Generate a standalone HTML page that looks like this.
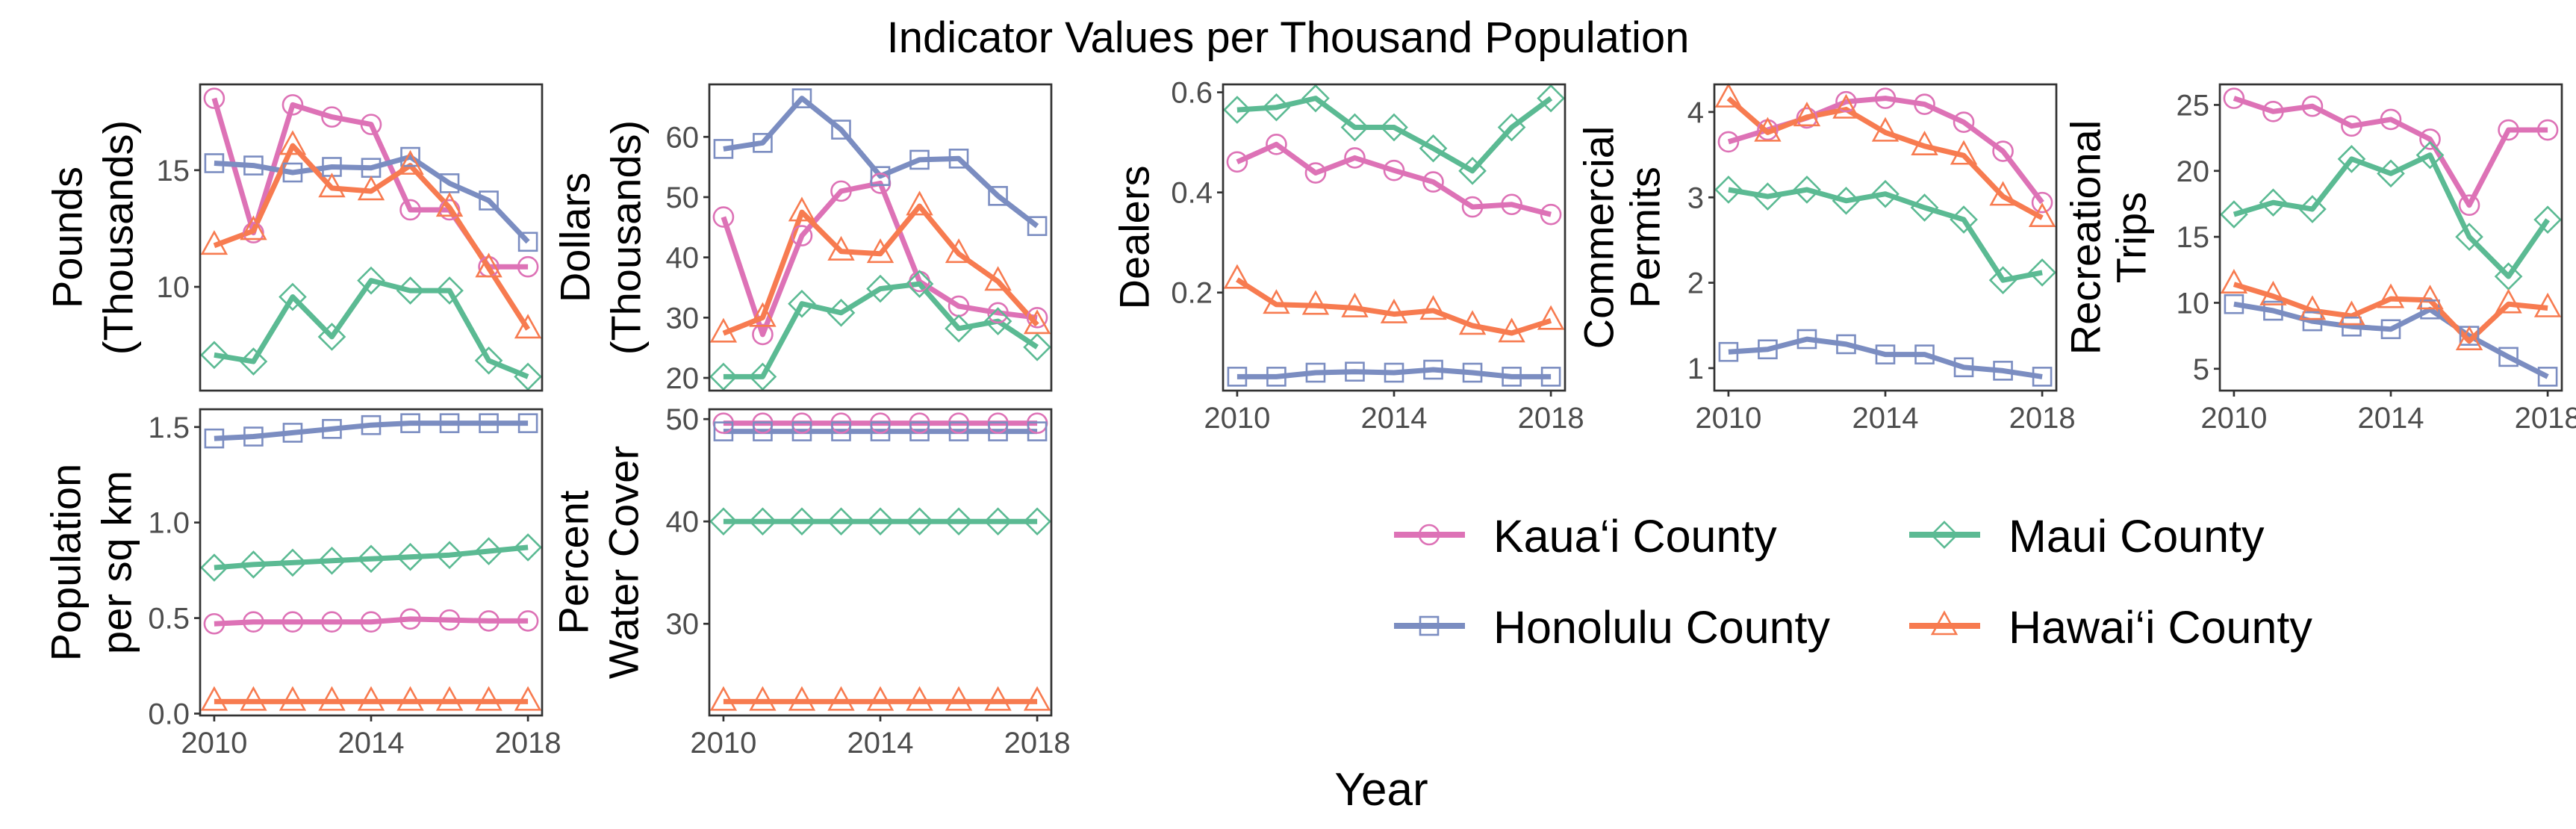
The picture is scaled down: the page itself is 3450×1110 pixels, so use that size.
<!DOCTYPE html>
<html><head><meta charset="utf-8">
<style>
html,body{margin:0;padding:0;background:#fff;}
svg{display:block;font-family:"Liberation Sans",Arial,sans-serif;}
</style></head>
<body>
<svg id="chart" width="3450" height="1110" viewBox="0 0 3450 1110" xmlns="http://www.w3.org/2000/svg">
<text x="1725" y="70" text-anchor="middle" font-size="58" fill="#000">Indicator Values per Thousand Population</text>
<text x="1850" y="1078" text-anchor="middle" font-size="62" fill="#000">Year</text>
<g id="panels"></g>
<g id="legend"></g>
</svg>
<script>
const years = [2010,2011,2012,2013,2014,2015,2016,2017,2018];
const seriesNames = ["Kaua\u2018i County","Honolulu County","Maui County","Hawai\u2018i County"];
const seriesKeys = ["kauai","honolulu","maui","hawaii"];

const poundsKauai    = [18.08,12.32,17.8,17.28,16.96,13.3,13.3,10.86,10.86];
const poundsHonolulu = [15.3,15.2,14.9,15.14,15.1,15.57,14.44,13.7,11.93];
const poundsMaui     = [7.08,6.8,9.57,7.86,10.27,9.84,9.84,6.84,6.15];
const poundsHawaii   = [11.77,12.4,16.05,14.23,14.1,15.2,13.4,10.8,8.18];

const dollarsKauai    = [46.7,27.2,43.6,51.0,52.3,36.0,31.9,30.8,30.0];
const dollarsHonolulu = [58.0,59.0,66.4,61.2,53.5,56.2,56.4,50.2,45.2];
const dollarsMaui     = [20.2,20.2,32.3,30.8,34.8,35.6,28.2,29.4,25.1];
const dollarsHawaii   = [27.4,30.0,47.5,41.0,40.6,48.5,40.6,36.0,28.8];

const dealersKauai    = [0.461,0.496,0.439,0.469,0.444,0.421,0.371,0.376,0.356];
const dealersHonolulu = [0.032,0.032,0.040,0.042,0.040,0.046,0.040,0.032,0.032];
const dealersMaui     = [0.565,0.570,0.588,0.530,0.530,0.488,0.443,0.530,0.588];
const dealersHawaii   = [0.226,0.176,0.174,0.169,0.157,0.164,0.134,0.119,0.144];

const permitsKauai    = [3.65,3.79,3.93,4.12,4.16,4.09,3.88,3.54,2.94];
const permitsHonolulu = [1.19,1.22,1.34,1.28,1.16,1.16,1.01,0.97,0.90];
const permitsMaui     = [3.09,3.01,3.09,2.96,3.04,2.88,2.74,2.03,2.12];
const permitsHawaii   = [4.16,3.76,3.94,4.03,3.76,3.60,3.49,3.01,2.76];

const tripsKauai    = [25.5,24.5,24.9,23.4,23.9,22.4,17.4,23.1,23.1];
const tripsHonolulu = [9.9,9.4,8.6,8.2,8.0,9.5,7.5,5.9,4.4];
const tripsMaui     = [16.7,17.6,17.1,20.9,19.8,21.2,15.0,12.0,16.3];
const tripsHawaii   = [11.4,10.5,9.4,9.0,10.3,10.2,7.1,9.9,9.6];

const popKauai    = [0.47,0.48,0.48,0.48,0.48,0.495,0.49,0.485,0.485];
const popHonolulu = [1.44,1.45,1.47,1.49,1.51,1.52,1.52,1.52,1.52];
const popMaui     = [0.764,0.78,0.79,0.80,0.81,0.82,0.83,0.85,0.87];
const popHawaii   = [0.063,0.063,0.063,0.063,0.063,0.063,0.063,0.063,0.063];

const waterKauai    = [49.6,49.6,49.6,49.6,49.6,49.6,49.6,49.6,49.6];
const waterHonolulu = [48.8,48.8,48.8,48.8,48.8,48.8,48.8,48.8,48.8];
const waterMaui     = [40,40,40,40,40,40,40,40,40];
const waterHawaii   = [22.4,22.4,22.4,22.4,22.4,22.4,22.4,22.4,22.4];

const poundsTicks = [10,15];
const dollarsTicks = [20,30,40,50,60];
const dealersTicks = [0.2,0.4,0.6];
const permitsTicks = [1,2,3,4];
const tripsTicks = [5,10,15,20,25];
const popTicks = [0.0,0.5,1.0,1.5];
const waterTicks = [30,40,50];
const xTicks = [2010,2014,2018];

const colors = {kauai:"#DD72B6",honolulu:"#7B8DC1",maui:"#5BBA93",hawaii:"#F77B50"};
const shapes = {kauai:"circle",honolulu:"square",maui:"diamond",hawaii:"triangle"};
const NS = "http://www.w3.org/2000/svg";

function mk(tag, attrs, parent){
  const e = document.createElementNS(NS, tag);
  for (const k in attrs) e.setAttribute(k, attrs[k]);
  if (parent) parent.appendChild(e);
  return e;
}

function marker(g, shape, cx, cy, color){
  let e;
  if (shape==="circle") e = mk("circle",{cx:cx,cy:cy,r:13,fill:"none",stroke:color,"stroke-width":2.6},g);
  else if (shape==="square") e = mk("rect",{x:cx-12,y:cy-12,width:24,height:24,fill:"none",stroke:color,"stroke-width":2.6},g);
  else if (shape==="diamond") e = mk("polygon",{points:`${cx},${cy-17} ${cx+17},${cy} ${cx},${cy+17} ${cx-17},${cy}`,fill:"none",stroke:color,"stroke-width":2.6},g);
  else e = mk("polygon",{points:`${cx},${cy-18} ${cx+16},${cy+11} ${cx-16},${cy+11}`,fill:"none",stroke:color,"stroke-width":2.6},g);
  return e;
}

const panels = [
  {key:"pounds", x:268, y:113, w:458, h:410, data:[poundsKauai,poundsHonolulu,poundsMaui,poundsHawaii], ticks:poundsTicks, fmt:v=>String(v), title:["Pounds","(Thousands)"], tx:[-178,-110], xlab:false},
  {key:"dollars", x:950, y:113, w:458, h:410, data:[dollarsKauai,dollarsHonolulu,dollarsMaui,dollarsHawaii], ticks:dollarsTicks, fmt:v=>String(v), title:["Dollars","(Thousands)"], tx:[-180,-112], xlab:false},
  {key:"dealers", x:1638, y:113, w:458, h:410, data:[dealersKauai,dealersHonolulu,dealersMaui,dealersHawaii], ticks:dealersTicks, fmt:v=>v.toFixed(1), title:["Dealers"], tx:[-119], xlab:true},
  {key:"permits", x:2296, y:113, w:458, h:410, data:[permitsKauai,permitsHonolulu,permitsMaui,permitsHawaii], ticks:permitsTicks, fmt:v=>String(v), title:["Commercial","Permits"], tx:[-155,-93], xlab:true},
  {key:"trips", x:2973, y:113, w:458, h:410, data:[tripsKauai,tripsHonolulu,tripsMaui,tripsHawaii], ticks:tripsTicks, fmt:v=>String(v), title:["Recreational","Trips"], tx:[-180,-119], xlab:true},
  {key:"population", x:268, y:548, w:458, h:410, data:[popKauai,popHonolulu,popMaui,popHawaii], ticks:popTicks, fmt:v=>v.toFixed(1), title:["Population","per sq km"], tx:[-180,-112], xlab:true},
  {key:"water", x:950, y:548, w:458, h:410, data:[waterKauai,waterHonolulu,waterMaui,waterHawaii], ticks:waterTicks, fmt:v=>String(v), title:["Percent","Water Cover"], tx:[-182,-115], xlab:true}
];

const root = document.getElementById("panels");
panels.forEach(p=>{
  const g = mk("g",{},root);
  
  
  let mn=Infinity,mx=-Infinity;
  p.data.forEach(s=>s.forEach(v=>{mn=Math.min(mn,v);mx=Math.max(mx,v);}));
  const pad=(mx-mn)*0.05; const lo=mn-pad, hi=mx+pad;
  const yS = v => p.y + p.h - (v-lo)/(hi-lo)*p.h;
  const xpad=(2018-2010)*0.045;
  const xS = v => p.x + (v-(2010-xpad))/((2018+xpad)-(2010-xpad))*p.w;

  p.data.forEach((s,i)=>{
    const key=seriesKeys[i];
    const pts = s.map((v,j)=>xS(years[j]).toFixed(1)+","+yS(v).toFixed(1)).join(" ");
    const pl = mk("polyline",{points:pts,fill:"none",stroke:colors[key],"stroke-width":7,"stroke-linejoin":"round"},g);
    
    
  });
  p.data.forEach((s,i)=>{
    const key=seriesKeys[i];
    s.forEach((v,j)=>{
      const m = marker(g, shapes[key], xS(years[j]), yS(v), colors[key]);
      
      
    });
  });
  const border = mk("rect",{x:p.x,y:p.y,width:p.w,height:p.h,fill:"none",stroke:"#333","stroke-width":2.7},g);
  
  

  p.ticks.forEach(t=>{
    const y=yS(t);
    const tl = mk("line",{x1:p.x-8,x2:p.x,y1:y,y2:y,stroke:"#333","stroke-width":2.7},g);
    
    
    const tx = mk("text",{x:p.x-14,y:y+14,"text-anchor":"end","font-size":40,fill:"#4d4d4d"},g);
    tx.textContent = p.fmt(t);
    
    
  });
  if (p.xlab){
    xTicks.forEach(t=>{
      const x=xS(t);
      const tl = mk("line",{x1:x,x2:x,y1:p.y+p.h,y2:p.y+p.h+8,stroke:"#333","stroke-width":2.7},g);
      
      
      const tx = mk("text",{x:x,y:p.y+p.h+50,"text-anchor":"middle","font-size":40,fill:"#4d4d4d"},g);
      tx.textContent = String(t);
      
      
    });
  }
  const cy = p.y + p.h/2;
  p.title.forEach((line,k)=>{
    const lx = p.x + p.tx[k];
    const t = mk("text",{x:lx,y:cy,"text-anchor":"middle","font-size":56,fill:"#000",transform:`rotate(-90 ${lx} ${cy})`,"dominant-baseline":"central"},g);
    t.textContent = line;
    
    
  });
});

const legend = document.getElementById("legend");
const legendPos = [[1867,716],[1867,838],[2557,716],[2557,838]];
seriesKeys.forEach((key,i)=>{
  const [lx,ly]=legendPos[i];
  const g = mk("g",{},legend);
  
  
  mk("line",{x1:lx,x2:lx+95,y1:ly,y2:ly,stroke:colors[key],"stroke-width":8},g);
  marker(g, shapes[key], lx+47, ly, colors[key]);
  const t = mk("text",{x:lx+133,y:ly+23,"font-size":61,fill:"#000"},g);
  t.textContent = seriesNames[i];
  
  
});
</script>
</body></html>
